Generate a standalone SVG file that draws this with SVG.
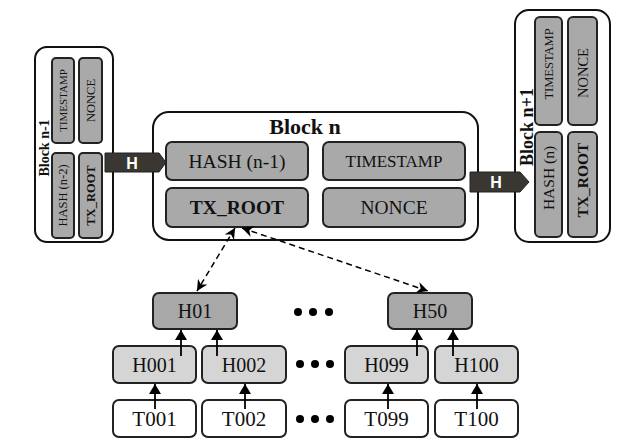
<svg xmlns="http://www.w3.org/2000/svg" width="621" height="447" viewBox="0 0 621 447">
<defs>
<marker id="tri" viewBox="0 0 10 12" refX="10" refY="6" markerWidth="10" markerHeight="12" markerUnits="userSpaceOnUse" orient="auto">
<path d="M0,0 L10,6 L0,12 z" fill="#000"/>
</marker>
<marker id="tri2" viewBox="0 0 10 10" refX="10" refY="5" markerWidth="11" markerHeight="11" markerUnits="userSpaceOnUse" orient="auto-start-reverse">
<path d="M0,0 L10,5 L0,10 L3,5 z" fill="#000"/>
</marker>
<style>
.blk{fill:#fff;stroke:#111;stroke-width:2}
.fld{fill:#a9a9a9;stroke:#222;stroke-width:2}
.hd{fill:#a8a8a8;stroke:#222;stroke-width:2}
.hl{fill:#d5d5d5;stroke:#222;stroke-width:2}
.tx{fill:#fff;stroke:#222;stroke-width:2}
text{font-family:"Liberation Serif","Times New Roman",serif;fill:#111;text-anchor:middle;dominant-baseline:central}
.b{font-weight:bold}
.hh{font-family:"Liberation Sans",Arial,sans-serif;font-weight:bold;fill:#fff;font-size:16px}
.ar{fill:#3a3632;stroke:#222;stroke-width:1}
.sl{stroke:#000;stroke-width:1.8;fill:none}
.dl{stroke:#000;stroke-width:1.5;fill:none;stroke-dasharray:6,4}
.dot{fill:#000}
</style>
</defs>

<g id="block-n-1">
<rect class="blk" x="35" y="47" width="78" height="195" rx="12"/>
<rect class="fld" x="52" y="58" width="22" height="85" rx="4"/>
<rect class="fld" x="79" y="58" width="23" height="85" rx="4"/>
<rect class="fld" x="52" y="153" width="22" height="85" rx="4"/>
<rect class="fld" x="79" y="153" width="23" height="85" rx="4"/>
<text class="b" font-size="14" transform="translate(44,148) rotate(-90)">Block n-1</text>
<text font-size="11" transform="translate(63,100.5) rotate(-90)">TIMESTAMP</text>
<text font-size="12.5" transform="translate(90.5,100.5) rotate(-90)">NONCE</text>
<text font-size="12.5" transform="translate(63,195.5) rotate(-90)">HASH (n-2)</text>
<text class="b" font-size="12.5" transform="translate(90.5,195.5) rotate(-90)">TX_ROOT</text>
</g>

<g id="block-n">
<rect class="blk" x="153" y="112" width="325" height="128" rx="16"/>
<text class="b" font-size="22" x="305" y="126">Block n</text>
<rect class="fld" x="166" y="142" width="142" height="38" rx="6"/>
<text font-size="19.5" x="237" y="161">HASH (n-1)</text>
<rect class="fld" x="323" y="142" width="142" height="38" rx="6"/>
<text font-size="17" x="394" y="161">TIMESTAMP</text>
<rect class="fld" x="166" y="188" width="142" height="39" rx="6"/>
<text class="b" font-size="19.5" x="237" y="207.5">TX_ROOT</text>
<rect class="fld" x="323" y="188" width="142" height="39" rx="6"/>
<text font-size="19.5" x="394" y="207.5">NONCE</text>
</g>

<g id="block-n1">
<rect class="blk" x="515" y="10" width="95" height="232" rx="14"/>
<rect class="fld" x="535" y="17" width="27" height="108" rx="5"/>
<rect class="fld" x="568" y="17" width="29" height="108" rx="5"/>
<rect class="fld" x="535" y="132" width="27" height="105" rx="5"/>
<rect class="fld" x="568" y="132" width="29" height="105" rx="5"/>
<text class="b" font-size="18" transform="translate(527,127) rotate(-90)">Block n+1</text>
<text font-size="12.5" transform="translate(548.5,64) rotate(-90)">TIMESTAMP</text>
<text font-size="14.5" transform="translate(582.5,73) rotate(-90)">NONCE</text>
<text font-size="15.5" transform="translate(548.5,178) rotate(-90)">HASH (n)</text>
<text class="b" font-size="15.5" transform="translate(582.5,180) rotate(-90)">TX_ROOT</text>
</g>

<g id="H01"><rect class="hd" x="153" y="293" width="84" height="36" rx="6"/><text font-size="20" x="195" y="311">H01</text></g>
<g id="H50"><rect class="hd" x="388" y="293" width="84" height="36" rx="6"/><text font-size="20" x="430" y="311">H50</text></g>

<g id="H001"><rect class="hl" x="113" y="346" width="83" height="37" rx="6"/><text font-size="20" x="154.5" y="364.5">H001</text></g>
<g id="H002"><rect class="hl" x="202" y="346" width="84" height="37" rx="6"/><text font-size="20" x="244" y="364.5">H002</text></g>
<g id="H099"><rect class="hl" x="345" y="346" width="83" height="37" rx="6"/><text font-size="20" x="386.5" y="364.5">H099</text></g>
<g id="H100"><rect class="hl" x="435" y="346" width="83" height="37" rx="6"/><text font-size="20" x="476.5" y="364.5">H100</text></g>

<g id="T001"><rect class="tx" x="113" y="400" width="83" height="37" rx="6"/><text font-size="21" x="154.5" y="418.5">T001</text></g>
<g id="T002"><rect class="tx" x="202" y="400" width="84" height="37" rx="6"/><text font-size="21" x="244" y="418.5">T002</text></g>
<g id="T099"><rect class="tx" x="345" y="400" width="83" height="37" rx="6"/><text font-size="21" x="386.5" y="418.5">T099</text></g>
<g id="T100"><rect class="tx" x="435" y="400" width="83" height="37" rx="6"/><text font-size="21" x="476.5" y="418.5">T100</text></g>

<g id="dots">
<circle class="dot" cx="298" cy="312" r="4"/><circle class="dot" cx="313" cy="312" r="4"/><circle class="dot" cx="329" cy="312" r="4"/>
<circle class="dot" cx="300" cy="364" r="4"/><circle class="dot" cx="315" cy="364" r="4"/><circle class="dot" cx="330" cy="364" r="4"/>
<circle class="dot" cx="300" cy="419" r="4"/><circle class="dot" cx="315" cy="419" r="4"/><circle class="dot" cx="330" cy="419" r="4"/>
</g>

<g id="connectors">
<polygon class="ar" points="105,153 159,153 166,162.5 159,172 105,172"/>
<text class="hh" x="132" y="163">H</text>
<polygon class="ar" points="470,172 520,172 529,182 520,192 470,192"/>
<text class="hh" x="496" y="182.5">H</text>

<line class="sl" x1="181" y1="356" x2="181" y2="330" marker-end="url(#tri)"/>
<line class="sl" x1="217" y1="356" x2="217" y2="330" marker-end="url(#tri)"/>
<line class="sl" x1="417" y1="356" x2="417" y2="330" marker-end="url(#tri)"/>
<line class="sl" x1="453" y1="356" x2="453" y2="330" marker-end="url(#tri)"/>
<line class="sl" x1="155" y1="409" x2="155" y2="384" marker-end="url(#tri)"/>
<line class="sl" x1="245" y1="409" x2="245" y2="384" marker-end="url(#tri)"/>
<line class="sl" x1="388" y1="409" x2="388" y2="384" marker-end="url(#tri)"/>
<line class="sl" x1="477" y1="409" x2="477" y2="384" marker-end="url(#tri)"/>

<line class="dl" x1="235" y1="228" x2="197" y2="291" marker-start="url(#tri2)" marker-end="url(#tri2)"/>
<line class="dl" x1="242" y1="228" x2="428" y2="291" marker-start="url(#tri2)" marker-end="url(#tri2)"/>
</g>
</svg>
